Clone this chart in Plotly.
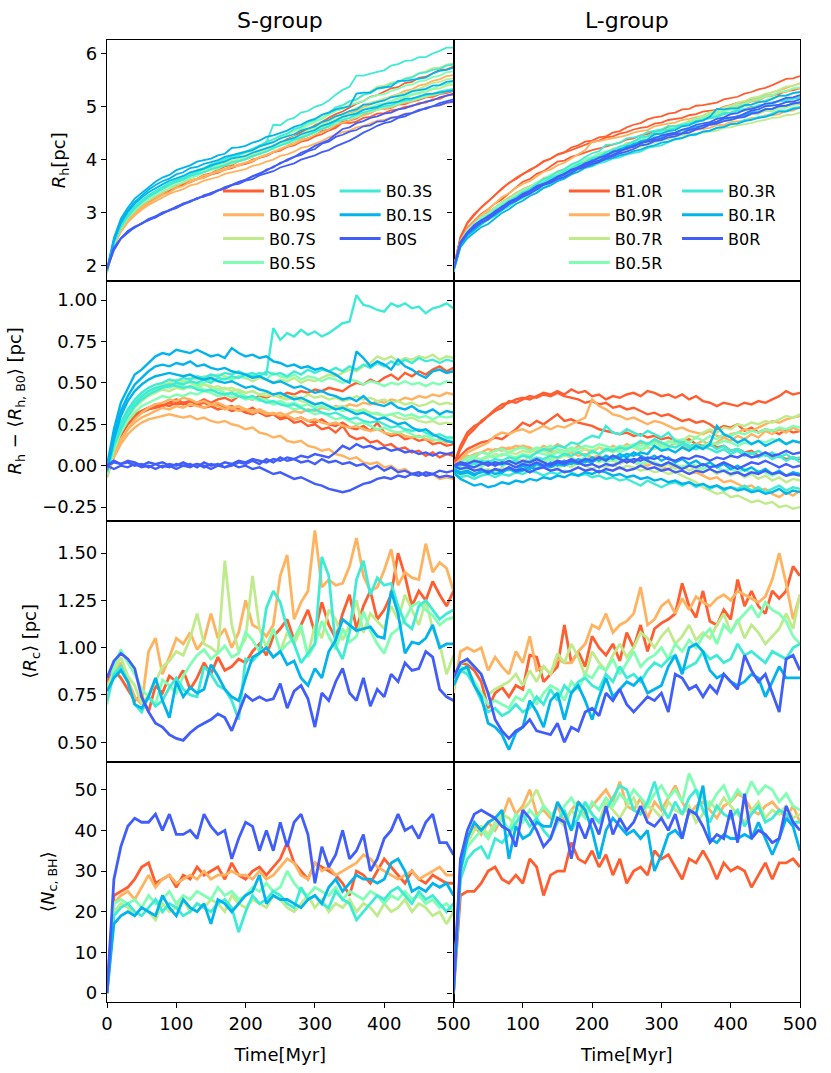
import plotly.graph_objects as go
from plotly.subplots import make_subplots

# ---------------- data ----------------
time_myr = [0, 10, 20, 30, 40, 50, 60, 70, 80, 90, 100,
            110, 120, 130, 140, 150, 160, 170, 180, 190, 200,
            210, 220, 230, 240, 250, 260, 270, 280, 290, 300,
            310, 320, 330, 340, 350, 360, 370, 380, 390, 400,
            410, 420, 430, 440, 450, 460, 470, 480, 490, 500]

models = ["B1.0", "B0.9", "B0.7", "B0.5", "B0.3", "B0.1", "B0"]
colors = ["#ff5e30", "#ffb360", "#c0eb8d", "#80ffb4", "#3febd4", "#02b3ec", "#425efa"]

x_ticks = [0, 100, 200, 300, 400, 500]
rh_ticks = [2, 3, 4, 5, 6]
drh_ticks = [-0.25, 0.0, 0.25, 0.5, 0.75, 1.0]
drh_ticktext = ["\u22120.25", "0.00", "0.25", "0.50", "0.75", "1.00"]
rc_ticks = [0.5, 0.75, 1.0, 1.25, 1.5]
rc_ticktext = ["0.50", "0.75", "1.00", "1.25", "1.50"]
nbh_ticks = [0, 10, 20, 30, 40, 50]

# mean half-mass radius of the B0 runs, <R_h,B0> [pc]
rh_b0_mean_S = [1.93, 2.30, 2.50, 2.62, 2.71, 2.79, 2.86, 2.92, 2.98, 3.04, 3.10,
                3.15, 3.21, 3.26, 3.31, 3.36, 3.41, 3.46, 3.51, 3.55, 3.60,
                3.65, 3.71, 3.77, 3.83, 3.89, 3.95, 4.01, 4.07, 4.13, 4.19,
                4.26, 4.32, 4.40, 4.46, 4.51, 4.56, 4.62, 4.67, 4.72, 4.76,
                4.80, 4.85, 4.89, 4.93, 4.98, 5.02, 5.06, 5.10, 5.14, 5.17]
rh_b0_mean_L = [1.93, 2.42, 2.61, 2.73, 2.83, 2.91, 3.00, 3.09, 3.17, 3.25, 3.32,
                3.39, 3.46, 3.53, 3.59, 3.65, 3.71, 3.77, 3.83, 3.89, 3.94,
                3.99, 4.04, 4.09, 4.13, 4.18, 4.22, 4.27, 4.31, 4.36, 4.40,
                4.44, 4.48, 4.52, 4.56, 4.60, 4.64, 4.68, 4.72, 4.76, 4.80,
                4.83, 4.87, 4.91, 4.94, 4.98, 5.01, 5.05, 5.08, 5.11, 5.14]

# R_h - <R_h,B0> [pc], three runs per model
drh_S_B10 = [
    [-0.05, 0.10, 0.20, 0.27, 0.31, 0.33, 0.35, 0.36, 0.37, 0.36, 0.38,
     0.37, 0.39, 0.38, 0.40, 0.38, 0.40, 0.41, 0.39, 0.42, 0.41,
     0.40, 0.42, 0.41, 0.43, 0.42, 0.44, 0.43, 0.45, 0.44, 0.46,
     0.45, 0.47, 0.46, 0.45, 0.48, 0.50, 0.49, 0.52, 0.50, 0.53,
     0.55, 0.52, 0.56, 0.54, 0.57, 0.55, 0.58, 0.60, 0.57, 0.59],
    [-0.06, 0.08, 0.18, 0.25, 0.29, 0.32, 0.34, 0.35, 0.36, 0.38, 0.37,
     0.38, 0.36, 0.37, 0.35, 0.36, 0.34, 0.35, 0.33, 0.34, 0.32,
     0.31, 0.33, 0.30, 0.31, 0.29, 0.30, 0.28, 0.29, 0.27, 0.26,
     0.28, 0.25, 0.24, 0.26, 0.23, 0.22, 0.24, 0.21, 0.26, 0.20,
     0.18, 0.19, 0.16, 0.17, 0.15, 0.16, 0.13, 0.14, 0.12, 0.13],
    [-0.04, 0.09, 0.19, 0.26, 0.30, 0.33, 0.35, 0.37, 0.36, 0.38, 0.40,
     0.38, 0.39, 0.37, 0.38, 0.36, 0.37, 0.35, 0.36, 0.34, 0.33,
     0.35, 0.32, 0.30, 0.31, 0.28, 0.29, 0.26, 0.27, 0.24, 0.25,
     0.22, 0.23, 0.20, 0.24, 0.18, 0.16, 0.17, 0.14, 0.15, 0.12,
     0.13, 0.10, 0.11, 0.08, 0.09, 0.06, 0.08, 0.05, 0.07, 0.06],
]
drh_S_B09 = [
    [-0.06, 0.05, 0.13, 0.19, 0.23, 0.26, 0.28, 0.29, 0.30, 0.31, 0.30,
     0.29, 0.30, 0.28, 0.29, 0.27, 0.26, 0.27, 0.25, 0.24, 0.22,
     0.23, 0.20, 0.19, 0.17, 0.18, 0.15, 0.14, 0.15, 0.12, 0.11,
     0.09, 0.10, 0.07, 0.06, 0.04, 0.05, 0.02, 0.01, 0.02, -0.01,
     0.00, -0.03, -0.02, -0.05, -0.04, -0.06, -0.05, -0.08, -0.07, -0.08],
    [-0.05, 0.08, 0.16, 0.22, 0.26, 0.29, 0.31, 0.33, 0.35, 0.34, 0.36,
     0.35, 0.37, 0.36, 0.35, 0.37, 0.36, 0.34, 0.35, 0.33, 0.34,
     0.32, 0.33, 0.31, 0.32, 0.30, 0.31, 0.33, 0.32, 0.34, 0.33,
     0.35, 0.34, 0.36, 0.35, 0.37, 0.36, 0.38, 0.37, 0.39, 0.38,
     0.40, 0.39, 0.41, 0.40, 0.42, 0.41, 0.43, 0.42, 0.44, 0.43],
    [-0.07, 0.06, 0.15, 0.22, 0.28, 0.32, 0.35, 0.37, 0.38, 0.40, 0.39,
     0.41, 0.40, 0.38, 0.39, 0.37, 0.38, 0.36, 0.35, 0.36, 0.34,
     0.33, 0.34, 0.32, 0.31, 0.32, 0.30, 0.28, 0.29, 0.27, 0.28,
     0.26, 0.25, 0.26, 0.24, 0.23, 0.24, 0.22, 0.21, 0.22, 0.20,
     0.19, 0.20, 0.18, 0.17, 0.18, 0.16, 0.15, 0.16, 0.14, 0.15],
]
drh_S_B07 = [
    [-0.04, 0.12, 0.24, 0.32, 0.38, 0.42, 0.45, 0.47, 0.49, 0.50, 0.52,
     0.51, 0.53, 0.52, 0.54, 0.53, 0.55, 0.54, 0.52, 0.54, 0.53,
     0.51, 0.53, 0.52, 0.50, 0.52, 0.51, 0.53, 0.50, 0.52, 0.51,
     0.53, 0.55, 0.54, 0.56, 0.58, 0.57, 0.60, 0.62, 0.66, 0.64,
     0.66, 0.63, 0.65, 0.64, 0.66, 0.65, 0.67, 0.64, 0.66, 0.65],
    [-0.05, 0.10, 0.21, 0.29, 0.35, 0.39, 0.42, 0.44, 0.46, 0.45, 0.47,
     0.46, 0.48, 0.47, 0.49, 0.48, 0.46, 0.47, 0.45, 0.46, 0.44,
     0.45, 0.43, 0.44, 0.42, 0.43, 0.41, 0.42, 0.40, 0.43, 0.41,
     0.42, 0.40, 0.41, 0.39, 0.40, 0.42, 0.40, 0.41, 0.39, 0.40,
     0.38, 0.39, 0.37, 0.38, 0.36, 0.37, 0.39, 0.37, 0.38, 0.37],
    [-0.06, 0.11, 0.23, 0.31, 0.37, 0.41, 0.44, 0.46, 0.48, 0.50, 0.49,
     0.51, 0.50, 0.48, 0.49, 0.47, 0.48, 0.46, 0.47, 0.45, 0.44,
     0.45, 0.43, 0.42, 0.43, 0.41, 0.40, 0.41, 0.39, 0.38, 0.37,
     0.38, 0.36, 0.35, 0.36, 0.34, 0.33, 0.34, 0.32, 0.31, 0.30,
     0.31, 0.29, 0.28, 0.29, 0.27, 0.26, 0.27, 0.25, 0.26, 0.25],
]
drh_S_B05 = [
    [-0.04, 0.12, 0.23, 0.31, 0.36, 0.40, 0.43, 0.45, 0.47, 0.48, 0.49,
     0.50, 0.51, 0.49, 0.50, 0.52, 0.51, 0.53, 0.52, 0.54, 0.53,
     0.55, 0.54, 0.52, 0.56, 0.54, 0.53, 0.55, 0.52, 0.54, 0.53,
     0.51, 0.53, 0.52, 0.50, 0.52, 0.51, 0.49, 0.51, 0.50, 0.48,
     0.50, 0.49, 0.51, 0.49, 0.50, 0.48, 0.50, 0.49, 0.51, 0.50],
    [-0.05, 0.10, 0.20, 0.27, 0.32, 0.36, 0.38, 0.40, 0.42, 0.41, 0.43,
     0.42, 0.44, 0.43, 0.45, 0.44, 0.42, 0.43, 0.41, 0.42, 0.40,
     0.41, 0.39, 0.40, 0.38, 0.39, 0.37, 0.38, 0.36, 0.37, 0.35,
     0.36, 0.34, 0.35, 0.33, 0.34, 0.32, 0.33, 0.31, 0.32, 0.30,
     0.31, 0.32, 0.30, 0.31, 0.29, 0.30, 0.28, 0.30, 0.29, 0.30],
    [-0.06, 0.11, 0.22, 0.30, 0.36, 0.40, 0.43, 0.46, 0.48, 0.47, 0.49,
     0.48, 0.47, 0.48, 0.46, 0.45, 0.46, 0.44, 0.43, 0.44, 0.42,
     0.40, 0.41, 0.39, 0.37, 0.38, 0.36, 0.34, 0.35, 0.33, 0.31,
     0.32, 0.30, 0.28, 0.29, 0.27, 0.25, 0.26, 0.24, 0.22, 0.23,
     0.21, 0.20, 0.21, 0.19, 0.17, 0.18, 0.16, 0.15, 0.16, 0.15],
]
drh_S_B03 = [
    [-0.03, 0.12, 0.22, 0.30, 0.36, 0.40, 0.43, 0.45, 0.47, 0.48, 0.50,
     0.49, 0.51, 0.50, 0.52, 0.50, 0.53, 0.52, 0.54, 0.53, 0.55,
     0.54, 0.56, 0.55, 0.83, 0.76, 0.80, 0.78, 0.82, 0.79, 0.81,
     0.78, 0.80, 0.83, 0.86, 0.87, 1.03, 0.97, 0.96, 0.94, 0.93,
     0.98, 0.96, 0.98, 0.95, 0.96, 0.92, 0.95, 0.96, 0.98, 0.95],
    [-0.03, 0.14, 0.26, 0.34, 0.40, 0.44, 0.47, 0.49, 0.50, 0.52, 0.51,
     0.53, 0.52, 0.54, 0.53, 0.55, 0.54, 0.56, 0.55, 0.57, 0.55,
     0.56, 0.54, 0.57, 0.55, 0.56, 0.54, 0.57, 0.55, 0.58, 0.56,
     0.58, 0.57, 0.59, 0.57, 0.60, 0.58, 0.61, 0.59, 0.62, 0.60,
     0.63, 0.61, 0.64, 0.62, 0.65, 0.63, 0.64, 0.62, 0.64, 0.63],
    [-0.04, 0.13, 0.25, 0.33, 0.38, 0.42, 0.45, 0.47, 0.48, 0.49, 0.48,
     0.47, 0.48, 0.46, 0.45, 0.46, 0.44, 0.43, 0.44, 0.42, 0.41,
     0.42, 0.40, 0.38, 0.39, 0.37, 0.36, 0.37, 0.35, 0.33, 0.34,
     0.32, 0.31, 0.32, 0.30, 0.28, 0.29, 0.27, 0.26, 0.27, 0.25,
     0.23, 0.24, 0.22, 0.21, 0.22, 0.20, 0.18, 0.19, 0.17, 0.17],
]
drh_S_B01 = [
    [0.00, 0.22, 0.38, 0.47, 0.55, 0.58, 0.62, 0.66, 0.68, 0.67, 0.70,
     0.69, 0.68, 0.70, 0.68, 0.66, 0.67, 0.65, 0.71, 0.68, 0.66,
     0.67, 0.65, 0.66, 0.63, 0.62, 0.60, 0.61, 0.59, 0.60, 0.58,
     0.59, 0.57, 0.55, 0.52, 0.50, 0.69, 0.65, 0.60, 0.63, 0.61,
     0.58, 0.64, 0.60, 0.58, 0.55, 0.53, 0.57, 0.58, 0.56, 0.57],
    [-0.02, 0.18, 0.33, 0.42, 0.49, 0.53, 0.57, 0.60, 0.61, 0.60, 0.62,
     0.61, 0.63, 0.60, 0.61, 0.59, 0.58, 0.59, 0.57, 0.56, 0.55,
     0.53, 0.54, 0.52, 0.50, 0.51, 0.49, 0.47, 0.48, 0.46, 0.44,
     0.45, 0.43, 0.42, 0.40, 0.41, 0.39, 0.42, 0.38, 0.37, 0.36,
     0.38, 0.35, 0.34, 0.36, 0.33, 0.32, 0.34, 0.31, 0.33, 0.32],
    [-0.03, 0.16, 0.30, 0.39, 0.45, 0.49, 0.52, 0.54, 0.55, 0.56, 0.55,
     0.54, 0.55, 0.53, 0.52, 0.53, 0.51, 0.50, 0.51, 0.49, 0.47,
     0.48, 0.46, 0.45, 0.43, 0.44, 0.42, 0.40, 0.41, 0.39, 0.37,
     0.38, 0.36, 0.34, 0.35, 0.33, 0.31, 0.32, 0.30, 0.28, 0.29,
     0.27, 0.25, 0.26, 0.23, 0.21, 0.22, 0.19, 0.17, 0.15, 0.14],
]
drh_S_B0 = [
    [0.00, 0.02, 0.01, 0.03, 0.02, 0.00, 0.02, 0.01, -0.01, 0.01, 0.00,
     0.02, 0.00, 0.01, -0.01, 0.01, 0.00, 0.02, 0.01, 0.03, 0.02,
     0.04, 0.03, 0.02, 0.04, 0.03, 0.05, 0.04, 0.06, 0.05, 0.07,
     0.06, 0.05, 0.08, 0.12, 0.10, 0.13, 0.11, 0.12, 0.10, 0.11,
     0.09, 0.10, 0.08, 0.09, 0.07, 0.08, 0.06, 0.08, 0.07, 0.08],
    [0.00, -0.02, 0.00, -0.01, 0.01, -0.01, 0.00, -0.02, 0.00, -0.01, 0.01,
     0.00, -0.01, 0.01, 0.00, -0.02, 0.00, -0.01, 0.01, -0.01, 0.00,
     -0.02, -0.01, -0.03, -0.05, -0.04, -0.06, -0.08, -0.07, -0.09, -0.11,
     -0.12, -0.14, -0.15, -0.16, -0.15, -0.13, -0.11, -0.10, -0.08, -0.07,
     -0.08, -0.06, -0.07, -0.05, -0.06, -0.04, -0.05, -0.03, -0.04, -0.03],
    [0.00, 0.03, 0.01, 0.02, 0.00, 0.01, -0.01, 0.01, 0.02, 0.00, -0.02,
     0.00, 0.01, -0.01, 0.02, 0.00, 0.01, -0.01, 0.00, 0.02, 0.01,
     0.03, 0.01, 0.04, 0.02, 0.05, 0.03, 0.04, 0.02, 0.03, 0.01,
     0.04, 0.02, 0.03, 0.01, 0.02, 0.00, 0.01, -0.02, 0.00, -0.03,
     -0.01, -0.04, -0.03, -0.05, -0.04, -0.06, -0.05, -0.07, -0.06, -0.07],
]

drh_L_B10 = [
    [0.00, 0.10, 0.18, 0.22, 0.27, 0.30, 0.34, 0.37, 0.38, 0.40, 0.41,
     0.40, 0.42, 0.44, 0.43, 0.45, 0.43, 0.46, 0.44, 0.45, 0.42,
     0.43, 0.40, 0.42, 0.41, 0.43, 0.44, 0.42, 0.45, 0.44, 0.42,
     0.43, 0.41, 0.43, 0.40, 0.42, 0.39, 0.38, 0.36, 0.38, 0.37,
     0.36, 0.38, 0.37, 0.39, 0.38, 0.40, 0.42, 0.45, 0.43, 0.44],
    [0.00, 0.12, 0.20, 0.24, 0.26, 0.30, 0.33, 0.35, 0.39, 0.38, 0.40,
     0.42, 0.41, 0.43, 0.42, 0.44, 0.42, 0.41, 0.40, 0.38, 0.39,
     0.37, 0.38, 0.35, 0.36, 0.34, 0.35, 0.33, 0.31, 0.32, 0.30,
     0.31, 0.29, 0.27, 0.28, 0.26, 0.27, 0.25, 0.22, 0.24, 0.23,
     0.25, 0.21, 0.23, 0.20, 0.22, 0.21, 0.19, 0.22, 0.20, 0.21],
    [0.00, 0.06, 0.10, 0.12, 0.14, 0.15, 0.17, 0.16, 0.19, 0.22, 0.26,
     0.24, 0.27, 0.25, 0.28, 0.31, 0.27, 0.28, 0.26, 0.25, 0.24,
     0.22, 0.21, 0.20, 0.19, 0.20, 0.18, 0.19, 0.17, 0.18, 0.16,
     0.17, 0.15, 0.14, 0.16, 0.13, 0.12, 0.14, 0.11, 0.12, 0.09,
     0.10, 0.08, 0.09, 0.06, 0.07, 0.05, 0.06, 0.04, 0.05, 0.04],
]
drh_L_B09 = [
    [0.00, 0.04, 0.08, 0.10, 0.12, 0.14, 0.18, 0.20, 0.19, 0.21, 0.22,
     0.20, 0.22, 0.24, 0.22, 0.24, 0.23, 0.25, 0.27, 0.29, 0.40,
     0.36, 0.34, 0.31, 0.30, 0.28, 0.29, 0.27, 0.25, 0.27, 0.26,
     0.24, 0.22, 0.23, 0.21, 0.20, 0.19, 0.21, 0.18, 0.17, 0.19,
     0.20, 0.22, 0.21, 0.23, 0.25, 0.27, 0.26, 0.28, 0.29, 0.30],
    [-0.02, 0.02, 0.05, 0.07, 0.08, 0.10, 0.09, 0.11, 0.10, 0.12, 0.11,
     0.10, 0.09, 0.10, 0.08, 0.09, 0.07, 0.08, 0.06, 0.07, 0.05,
     0.06, 0.04, 0.03, 0.05, 0.02, 0.03, 0.01, 0.00, 0.02, -0.01,
     -0.02, 0.00, -0.03, -0.05, -0.04, -0.06, -0.08, -0.07, -0.10, -0.09,
     -0.11, -0.13, -0.12, -0.15, -0.14, -0.17, -0.19, -0.16, -0.18, -0.15],
    [0.00, 0.03, 0.06, 0.05, 0.08, 0.07, 0.10, 0.09, 0.11, 0.10, 0.12,
     0.11, 0.09, 0.12, 0.10, 0.13, 0.11, 0.09, 0.12, 0.10, 0.08,
     0.11, 0.09, 0.12, 0.10, 0.13, 0.11, 0.14, 0.12, 0.15, 0.13,
     0.11, 0.14, 0.12, 0.10, 0.13, 0.15, 0.12, 0.14, 0.17, 0.15,
     0.18, 0.16, 0.19, 0.17, 0.21, 0.19, 0.22, 0.20, 0.23, 0.21],
]
drh_L_B07 = [
    [-0.05, -0.06, -0.04, -0.05, -0.03, -0.02, -0.04, -0.01, -0.03, 0.00, -0.02,
     0.01, -0.01, 0.02, 0.00, -0.02, 0.01, -0.01, 0.02, 0.00, -0.02,
     0.00, -0.01, 0.01, -0.02, 0.00, -0.01, -0.03, -0.02, -0.04, -0.03,
     -0.05, -0.04, -0.06, -0.08, -0.10, -0.13, -0.15, -0.17, -0.16, -0.19,
     -0.18, -0.20, -0.22, -0.21, -0.23, -0.22, -0.25, -0.24, -0.26, -0.25],
    [-0.03, 0.00, 0.02, 0.04, 0.03, 0.05, 0.07, 0.06, 0.08, 0.07, 0.09,
     0.08, 0.10, 0.09, 0.07, 0.09, 0.08, 0.10, 0.08, 0.10, 0.09,
     0.11, 0.10, 0.08, 0.10, 0.12, 0.11, 0.09, 0.11, 0.10, 0.12,
     0.14, 0.16, 0.15, 0.18, 0.17, 0.20, 0.22, 0.20, 0.23, 0.22,
     0.25, 0.24, 0.26, 0.25, 0.27, 0.26, 0.28, 0.30, 0.29, 0.31],
    [-0.06, -0.04, -0.02, -0.01, 0.00, 0.02, 0.01, 0.03, 0.02, 0.04, 0.03,
     0.05, 0.04, 0.03, 0.05, 0.04, 0.06, 0.05, 0.03, 0.05, 0.04,
     0.02, 0.04, 0.03, 0.01, 0.03, 0.02, 0.00, 0.02, 0.01, -0.01,
     0.01, -0.02, 0.00, -0.03, -0.01, -0.04, -0.02, -0.05, -0.03, -0.06,
     -0.04, -0.07, -0.05, -0.08, -0.06, -0.09, -0.07, -0.10, -0.08, -0.09],
]
drh_L_B05 = [
    [-0.02, 0.02, 0.05, 0.06, 0.08, 0.07, 0.09, 0.10, 0.08, 0.10, 0.11,
     0.09, 0.11, 0.10, 0.12, 0.10, 0.09, 0.11, 0.10, 0.12, 0.11,
     0.13, 0.12, 0.10, 0.12, 0.11, 0.13, 0.12, 0.14, 0.12, 0.10,
     0.12, 0.11, 0.13, 0.12, 0.10, 0.12, 0.14, 0.13, 0.15, 0.14,
     0.12, 0.14, 0.13, 0.15, 0.14, 0.16, 0.15, 0.13, 0.15, 0.14],
    [-0.04, -0.02, 0.00, 0.01, -0.01, 0.02, 0.00, 0.03, 0.01, 0.02, 0.00,
     0.03, 0.01, 0.02, 0.04, 0.02, 0.03, 0.01, 0.03, 0.05, 0.03,
     0.04, 0.02, 0.04, 0.03, 0.05, 0.03, 0.01, 0.03, 0.02, 0.00,
     0.02, 0.01, -0.01, 0.01, 0.00, -0.02, 0.00, -0.01, -0.03, -0.02,
     -0.04, -0.02, -0.05, -0.03, -0.04, -0.06, -0.04, -0.06, -0.05, -0.05],
    [-0.03, 0.00, 0.03, 0.05, 0.04, 0.06, 0.05, 0.07, 0.06, 0.05, 0.07,
     0.06, 0.08, 0.07, 0.06, 0.08, 0.07, 0.09, 0.08, 0.06, 0.08,
     0.07, 0.09, 0.10, 0.08, 0.10, 0.12, 0.10, 0.12, 0.14, 0.12,
     0.15, 0.13, 0.16, 0.14, 0.17, 0.15, 0.18, 0.16, 0.19, 0.18,
     0.20, 0.19, 0.21, 0.20, 0.22, 0.21, 0.23, 0.22, 0.24, 0.23],
]
drh_L_B03 = [
    [-0.03, 0.00, 0.02, 0.01, 0.03, 0.02, 0.04, 0.03, 0.05, 0.04, 0.06,
     0.05, 0.08, 0.10, 0.09, 0.12, 0.11, 0.14, 0.13, 0.16, 0.18,
     0.17, 0.24, 0.20, 0.19, 0.22, 0.20, 0.18, 0.21, 0.19, 0.17,
     0.20, 0.15, 0.14, 0.12, 0.13, 0.11, 0.13, 0.10, 0.12, 0.09,
     0.10, 0.08, 0.07, 0.09, 0.06, 0.08, 0.05, 0.07, 0.04, 0.05],
    [-0.05, -0.07, -0.06, -0.08, -0.06, -0.05, -0.07, -0.05, -0.06, -0.04, -0.05,
     -0.03, -0.04, -0.06, -0.04, -0.05, -0.03, -0.04, -0.06, -0.05, -0.07,
     -0.06, -0.08, -0.07, -0.09, -0.08, -0.10, -0.12, -0.09, -0.11, -0.13,
     -0.11, -0.10, -0.12, -0.10, -0.13, -0.11, -0.14, -0.12, -0.15, -0.13,
     -0.14, -0.12, -0.15, -0.13, -0.16, -0.14, -0.12, -0.15, -0.13, -0.14],
    [-0.02, 0.01, 0.00, 0.02, 0.01, 0.03, 0.02, 0.00, 0.02, 0.03, 0.01,
     0.03, 0.05, 0.04, 0.06, 0.05, 0.07, 0.06, 0.08, 0.06, 0.09,
     0.07, 0.10, 0.09, 0.11, 0.10, 0.12, 0.15, 0.13, 0.16, 0.14,
     0.12, 0.11, 0.13, 0.11, 0.10, 0.12, 0.10, 0.08, 0.10, 0.07,
     0.09, 0.06, 0.08, 0.05, 0.07, 0.04, 0.06, 0.03, 0.05, 0.02],
]
drh_L_B01 = [
    [-0.02, -0.04, -0.03, -0.05, -0.04, -0.03, -0.05, -0.04, -0.02, -0.04, -0.03,
     -0.01, -0.02, 0.00, -0.01, 0.01, 0.00, 0.02, 0.01, 0.03, 0.02,
     0.05, 0.04, 0.06, 0.05, 0.07, 0.06, 0.08, 0.07, 0.12, 0.09,
     0.10, 0.08, 0.11, 0.09, 0.12, 0.10, 0.13, 0.24, 0.19, 0.17,
     0.14, 0.16, 0.13, 0.15, 0.12, 0.14, 0.16, 0.13, 0.15, 0.14],
    [-0.04, -0.08, -0.10, -0.12, -0.11, -0.13, -0.12, -0.10, -0.11, -0.09, -0.10,
     -0.08, -0.09, -0.07, -0.08, -0.06, -0.07, -0.05, -0.06, -0.04, -0.05,
     -0.03, -0.04, -0.06, -0.05, -0.07, -0.06, -0.08, -0.07, -0.09, -0.08,
     -0.10, -0.09, -0.11, -0.10, -0.12, -0.11, -0.13, -0.12, -0.14, -0.13,
     -0.15, -0.14, -0.16, -0.15, -0.17, -0.16, -0.14, -0.17, -0.15, -0.16],
    [-0.03, -0.05, -0.04, -0.06, -0.03, -0.05, -0.02, -0.04, -0.01, -0.03, 0.00,
     -0.02, 0.01, -0.01, 0.02, 0.00, 0.03, 0.01, 0.04, 0.02, 0.05,
     0.03, 0.06, 0.04, 0.07, 0.05, 0.08, 0.06, 0.04, 0.06, 0.03,
     0.05, 0.02, 0.04, 0.01, 0.03, 0.00, 0.02, -0.01, 0.01, -0.02,
     0.00, -0.03, -0.01, -0.04, -0.02, -0.05, -0.03, -0.06, -0.04, -0.05],
]
drh_L_B0 = [
    [0.00, 0.02, 0.01, 0.03, 0.02, 0.00, 0.02, 0.01, 0.03, 0.01, 0.03,
     0.02, 0.04, 0.02, 0.00, 0.02, 0.01, 0.03, 0.02, 0.04, 0.03,
     0.05, 0.03, 0.06, 0.04, 0.02, 0.04, 0.03, 0.05, 0.04, 0.06,
     0.04, 0.03, 0.05, 0.04, 0.06, 0.05, 0.03, 0.05, 0.04, 0.06,
     0.05, 0.07, 0.05, 0.06, 0.08, 0.06, 0.07, 0.09, 0.07, 0.08],
    [0.00, -0.02, -0.01, -0.03, -0.02, -0.04, -0.02, -0.03, -0.01, -0.03, -0.02,
     -0.04, -0.02, -0.01, -0.03, -0.02, -0.04, -0.03, -0.01, -0.03, -0.02,
     -0.04, -0.02, -0.03, -0.01, -0.03, -0.02, 0.00, -0.02, -0.01, -0.03,
     -0.02, -0.04, -0.03, -0.05, -0.03, -0.04, -0.02, -0.04, -0.03, -0.05,
     -0.04, -0.06, -0.04, -0.05, -0.03, -0.05, -0.04, -0.06, -0.05, -0.06],
    [0.00, 0.01, 0.00, -0.01, 0.01, 0.02, 0.00, 0.02, 0.01, -0.01, 0.01,
     0.00, 0.02, 0.00, 0.01, 0.03, 0.02, 0.04, 0.02, 0.00, 0.01,
     -0.01, 0.01, 0.00, 0.02, 0.04, 0.02, 0.05, 0.03, 0.01, 0.00,
     0.02, 0.00, -0.02, 0.00, -0.01, 0.01, -0.01, 0.00, 0.02, 0.00,
     -0.02, 0.00, 0.02, 0.01, 0.03, 0.01, -0.01, 0.01, -0.01, 0.00],
]

# <R_c> [pc]
rc_S_B10 = [0.82, 0.88, 0.84, 0.78, 0.72, 0.75, 0.66, 0.80, 0.76, 0.85, 0.82,
            0.88, 0.78, 0.84, 0.92, 0.86, 0.95, 0.88, 0.90, 0.94, 0.92,
            0.98, 1.02, 0.96, 1.06, 1.10, 1.15, 1.04, 1.12, 1.20, 1.08,
            1.24, 1.12, 1.05, 1.18, 1.28, 1.10, 1.22, 1.30, 1.15, 1.20,
            1.28, 1.50, 1.38, 1.22, 1.30, 1.25, 1.35, 1.28, 1.22, 1.30]
rc_S_B09 = [0.80, 0.86, 0.92, 0.83, 0.74, 0.70, 0.98, 1.05, 0.86, 0.95, 1.05,
            1.02, 1.08, 0.99, 1.04, 1.18, 1.05, 1.10, 1.00, 1.08, 1.25,
            1.12, 1.10, 1.06, 1.12, 1.38, 1.49, 1.15, 1.24, 1.30, 1.62,
            1.32, 1.36, 1.33, 1.34, 1.43, 1.58, 1.38, 1.30, 1.32, 1.41,
            1.52, 1.33, 1.40, 1.37, 1.36, 1.55, 1.40, 1.45, 1.42, 1.30]
rc_S_B07 = [0.78, 0.88, 0.95, 0.85, 0.80, 0.70, 0.75, 0.82, 0.90, 0.93, 0.98,
            0.96, 1.05, 1.18, 1.02, 1.00, 0.97, 1.46, 1.12, 0.98, 1.05,
            1.38, 1.10, 1.00, 0.95, 0.98, 1.08, 1.02, 1.10, 0.96, 1.12,
            1.05, 1.20, 1.15, 1.04, 1.12, 1.25, 1.08, 1.18, 1.14, 1.10,
            1.22, 1.15, 1.28, 1.20, 1.12, 1.25, 1.10, 1.02, 0.86, 0.96]
rc_S_B05 = [0.70, 0.90, 0.99, 0.92, 0.86, 0.78, 0.74, 0.70, 0.83, 0.80, 0.76,
            0.85, 0.91, 0.96, 0.99, 0.94, 0.97, 1.01, 0.95, 0.97, 1.08,
            1.04, 0.98, 1.00, 1.10, 0.98, 1.02, 1.05, 1.12, 0.95, 1.02,
            1.14, 1.06, 0.99, 1.10, 1.03, 1.06, 1.19, 1.09, 1.02, 0.97,
            1.07, 1.10, 1.15, 1.22, 1.24, 1.20, 1.17, 1.12, 1.15, 1.16]
rc_S_B03 = [0.72, 0.86, 0.90, 0.82, 0.70, 0.66, 0.74, 0.69, 0.72, 0.79, 0.84,
            0.78, 0.75, 0.74, 0.90, 0.86, 0.80, 0.78, 0.72, 0.62, 0.94,
            0.93, 0.97, 1.21, 1.30, 1.24, 1.10, 1.02, 0.92, 0.97, 1.02,
            1.48, 1.38, 1.01, 0.94, 1.08, 1.36, 1.46, 1.28, 1.37, 1.33,
            1.34, 1.22, 1.13, 1.10, 1.22, 1.25, 1.20, 1.15, 1.18, 1.20]
rc_S_B01 = [0.77, 0.84, 0.88, 0.82, 0.70, 0.68, 0.74, 0.84, 0.72, 0.63, 0.82,
            0.74, 0.79, 0.76, 0.78, 0.91, 0.85, 0.78, 0.74, 0.72, 0.84,
            0.95, 0.97, 1.00, 0.95, 0.98, 0.91, 0.93, 0.84, 0.80, 0.89,
            0.84, 0.98, 1.04, 1.15, 1.12, 1.09, 1.10, 1.11, 1.06, 1.05,
            1.30, 1.18, 0.97, 1.03, 1.02, 1.05, 1.12, 1.00, 1.02, 1.02]
rc_S_B0 = [0.84, 0.93, 0.97, 0.94, 0.89, 0.74, 0.66, 0.60, 0.58, 0.54, 0.52,
           0.51, 0.55, 0.58, 0.60, 0.62, 0.65, 0.63, 0.56, 0.66, 0.75,
           0.72, 0.74, 0.72, 0.73, 0.81, 0.68, 0.77, 0.80, 0.73, 0.58,
           0.76, 0.72, 0.82, 0.89, 0.76, 0.72, 0.84, 0.69, 0.78, 0.74,
           0.86, 0.82, 0.92, 0.88, 0.89, 0.98, 0.95, 0.78, 0.74, 0.72]

rc_L_B10 = [0.84, 0.92, 0.91, 0.88, 0.82, 0.68, 0.76, 0.79, 0.74, 0.80, 0.78,
            0.96, 0.95, 0.82, 0.86, 0.90, 1.12, 0.92, 0.98, 0.90, 1.06,
            1.00, 0.96, 1.02, 0.93, 1.08, 1.00, 1.12, 0.98, 1.10, 1.13,
            1.15, 1.18, 1.34, 1.22, 1.16, 1.30, 1.14, 1.12, 1.20, 1.15,
            1.36, 1.22, 1.30, 1.22, 1.18, 1.30, 1.26, 1.30, 1.43, 1.38]
rc_L_B09 = [0.76, 0.98, 1.00, 0.98, 1.00, 0.88, 0.95, 0.90, 0.86, 0.98, 0.92,
            1.06, 0.88, 0.90, 0.86, 0.94, 0.92, 0.92, 0.98, 1.02, 1.12,
            1.10, 1.18, 1.08, 1.12, 1.14, 1.18, 1.32, 1.12, 1.15, 1.22,
            1.25, 1.18, 1.26, 1.20, 1.27, 1.24, 1.22, 1.26, 1.28, 1.25,
            1.30, 1.28, 1.26, 1.24, 1.27, 1.36, 1.50, 1.34, 1.15, 1.28]
rc_L_B07 = [0.78, 0.92, 0.93, 0.90, 0.86, 0.75, 0.78, 0.80, 0.82, 0.86, 0.80,
            0.88, 0.82, 0.90, 0.86, 0.97, 0.92, 1.02, 0.95, 0.85, 0.98,
            0.92, 0.88, 0.96, 1.02, 0.95, 1.00, 1.08, 1.05, 1.00, 1.06,
            1.10, 1.02, 1.06, 1.12, 1.04, 1.08, 1.05, 1.12, 1.18, 1.08,
            1.15, 1.05, 1.12, 1.08, 1.02, 1.06, 1.10, 1.18, 1.10, 1.28]
rc_L_B05 = [0.80, 0.90, 0.88, 0.82, 0.76, 0.70, 0.72, 0.70, 0.68, 0.74, 0.72,
            0.78, 0.70, 0.76, 0.80, 0.78, 0.72, 0.82, 0.78, 0.86, 0.84,
            0.90, 0.88, 0.94, 0.86, 0.92, 0.98, 0.90, 0.94, 0.96, 1.00,
            0.94, 1.02, 0.98, 1.04, 1.00, 1.06, 1.10, 1.02, 1.12, 1.08,
            1.14, 1.18, 1.22, 1.16, 1.24, 1.20, 1.18, 1.14, 1.06, 1.02]
rc_L_B03 = [0.80, 0.88, 0.86, 0.80, 0.72, 0.66, 0.68, 0.64, 0.66, 0.70, 0.66,
            0.68, 0.74, 0.70, 0.78, 0.72, 0.80, 0.76, 0.82, 0.84, 0.80,
            0.78, 0.86, 0.82, 0.90, 0.84, 0.86, 0.82, 0.88, 0.92, 0.90,
            0.94, 0.96, 0.88, 0.90, 0.92, 0.98, 0.94, 0.96, 0.92, 0.94,
            1.02, 0.96, 0.98, 0.95, 0.92, 0.98, 0.96, 0.94, 1.00, 1.02]
rc_L_B01 = [0.80, 0.88, 0.90, 0.80, 0.74, 0.60, 0.58, 0.54, 0.46, 0.55, 0.58,
            0.72, 0.66, 0.58, 0.72, 0.76, 0.62, 0.76, 0.80, 0.72, 0.62,
            0.74, 0.84, 0.74, 0.78, 0.82, 0.80, 0.84, 0.76, 0.78, 0.80,
            0.90, 0.96, 0.86, 1.00, 1.02, 0.98, 0.88, 0.84, 0.86, 0.82,
            0.80, 0.82, 0.86, 0.84, 0.74, 0.82, 0.90, 0.84, 0.84, 0.84]
rc_L_B0 = [0.84, 0.92, 0.94, 0.90, 0.86, 0.76, 0.62, 0.56, 0.52, 0.56, 0.58,
           0.62, 0.56, 0.55, 0.54, 0.60, 0.50, 0.58, 0.56, 0.66, 0.68,
           0.64, 0.76, 0.72, 0.78, 0.70, 0.66, 0.70, 0.74, 0.72, 0.76,
           0.66, 0.86, 0.84, 0.78, 0.80, 0.74, 0.80, 0.76, 0.86, 0.82,
           0.78, 0.96, 0.88, 0.82, 0.86, 0.76, 0.66, 0.94, 0.96, 0.88]

# <N_c,BH>
nbh_S_B10 = [0, 24, 25, 26, 28, 31, 32, 27, 28, 29, 26,
             29, 28, 31, 29, 30, 31, 28, 32, 29, 28,
             30, 31, 29, 31, 33, 37, 32, 30, 28, 32,
             31, 30, 29, 27, 24, 30, 29, 27, 30, 33,
             31, 29, 27, 30, 28, 27, 29, 28, 27, 27]
nbh_S_B09 = [0, 22, 24, 25, 23, 26, 29, 26, 28, 29, 27,
             28, 29, 28, 30, 28, 29, 29, 30, 29, 29,
             28, 30, 28, 29, 31, 33, 32, 29, 28, 32,
             30, 31, 29, 30, 31, 32, 34, 33, 31, 30,
             29, 28, 29, 30, 28, 29, 30, 31, 29, 29]
nbh_S_B07 = [0, 20, 22, 21, 19, 21, 20, 18, 22, 20, 21,
             23, 20, 22, 21, 23, 22, 20, 24, 22, 21,
             23, 22, 21, 24, 23, 21, 20, 22, 24, 21,
             23, 20, 22, 21, 23, 20, 22, 21, 19, 22,
             20, 21, 23, 20, 22, 21, 19, 20, 17, 20]
nbh_S_B05 = [0, 22, 23, 22, 23, 21, 24, 22, 23, 25, 22,
             24, 23, 25, 24, 23, 26, 24, 25, 23, 24,
             26, 25, 27, 25, 26, 30, 27, 25, 24, 26,
             25, 24, 26, 23, 25, 24, 23, 25, 24, 22,
             24, 23, 25, 23, 24, 22, 23, 21, 22, 20]
nbh_S_B03 = [0, 19, 21, 22, 20, 19, 21, 23, 20, 22, 21,
             19, 20, 22, 21, 20, 22, 23, 21, 15, 20,
             24, 22, 23, 25, 24, 22, 21, 26, 23, 24,
             22, 21, 25, 23, 22, 18, 20, 22, 24, 23,
             25, 26, 24, 22, 25, 23, 24, 22, 20, 22]
nbh_S_B01 = [0, 17, 19, 20, 19, 21, 20, 19, 24, 21, 19,
             23, 21, 20, 22, 17, 23, 22, 20, 22, 24,
             25, 29, 22, 24, 23, 23, 22, 21, 23, 24,
             22, 26, 28, 25, 27, 29, 28, 28, 27, 28,
             32, 33, 30, 25, 26, 25, 27, 26, 27, 24]
nbh_S_B0 = [0, 28, 36, 41, 43, 42, 42, 44, 40, 44, 39,
            39, 40, 38, 44, 41, 39, 40, 33, 38, 42,
            41, 35, 40, 35, 42, 36, 42, 44, 39, 27,
            36, 31, 34, 40, 33, 35, 39, 30, 33, 38,
            40, 44, 40, 41, 38, 42, 44, 37, 37, 34]

nbh_L_B10 = [0, 24, 25, 25, 27, 30, 31, 28, 27, 29, 27,
             33, 31, 24, 29, 30, 30, 37, 33, 32, 35,
             31, 34, 29, 33, 27, 30, 31, 29, 35, 33,
             34, 31, 28, 33, 32, 35, 32, 28, 32, 30,
             31, 30, 26, 29, 32, 28, 32, 32, 33, 31]
nbh_L_B09 = [0, 32, 38, 41, 39, 42, 40, 43, 48, 44, 46,
             50, 44, 45, 43, 46, 42, 45, 47, 44, 46,
             48, 50, 47, 52, 46, 45, 48, 43, 47, 45,
             48, 51, 47, 44, 46, 47, 45, 43, 46, 47,
             49, 48, 45, 44, 46, 47, 45, 43, 46, 42]
nbh_L_B07 = [0, 31, 37, 40, 41, 39, 42, 44, 43, 41, 45,
             47, 50, 46, 44, 43, 41, 45, 43, 46, 44,
             42, 47, 45, 43, 46, 48, 44, 46, 45, 43,
             47, 45, 44, 46, 42, 44, 47, 45, 48, 46,
             44, 42, 45, 47, 43, 45, 44, 46, 43, 44]
nbh_L_B05 = [0, 30, 36, 38, 40, 38, 41, 43, 40, 44, 42,
             45, 43, 46, 44, 42, 46, 48, 45, 43, 47,
             45, 48, 46, 49, 47, 50, 48, 46, 49, 51,
             48, 50, 47, 54, 50, 48, 46, 49, 51, 47,
             50, 48, 52, 49, 51, 50, 47, 49, 46, 45]
nbh_L_B03 = [0, 28, 33, 35, 36, 33, 38, 37, 39, 42, 44,
             41, 43, 40, 38, 42, 45, 40, 43, 47, 44,
             42, 45, 48, 51, 50, 45, 44, 47, 52, 46,
             43, 47, 44, 48, 50, 45, 42, 46, 44, 43,
             45, 41, 44, 46, 42, 43, 45, 44, 42, 42]
nbh_L_B01 = [0, 30, 38, 42, 40, 42, 43, 45, 33, 41, 38,
             39, 42, 41, 41, 47, 44, 40, 47, 45, 40,
             33, 40, 43, 41, 39, 40, 38, 40, 30, 34,
             39, 40, 38, 45, 44, 51, 38, 37, 39, 38,
             38, 39, 38, 42, 38, 34, 38, 43, 41, 35]
nbh_L_B0 = [0, 33, 40, 44, 45, 44, 43, 41, 40, 36, 45,
            43, 40, 36, 38, 43, 42, 33, 42, 38, 43,
            39, 46, 39, 43, 40, 42, 46, 42, 41, 43,
            40, 44, 38, 45, 44, 41, 37, 39, 38, 45,
            37, 49, 38, 40, 39, 37, 38, 46, 42, 40]

groups = {
    "S": dict(col=1, mean=rh_b0_mean_S,
              drh=[drh_S_B10, drh_S_B09, drh_S_B07, drh_S_B05, drh_S_B03, drh_S_B01, drh_S_B0],
              rc=[rc_S_B10, rc_S_B09, rc_S_B07, rc_S_B05, rc_S_B03, rc_S_B01, rc_S_B0],
              nbh=[nbh_S_B10, nbh_S_B09, nbh_S_B07, nbh_S_B05, nbh_S_B03, nbh_S_B01, nbh_S_B0]),
    "L": dict(col=2, mean=rh_b0_mean_L,
              drh=[drh_L_B10, drh_L_B09, drh_L_B07, drh_L_B05, drh_L_B03, drh_L_B01, drh_L_B0],
              rc=[rc_L_B10, rc_L_B09, rc_L_B07, rc_L_B05, rc_L_B03, rc_L_B01, rc_L_B0],
              nbh=[nbh_L_B10, nbh_L_B09, nbh_L_B07, nbh_L_B05, nbh_L_B03, nbh_L_B01, nbh_L_B0]),
}
suffix = {"S": "S", "L": "R"}

# ---------------- figure ----------------
FONT = "DejaVu Sans"
fig = make_subplots(rows=4, cols=2, horizontal_spacing=0, vertical_spacing=0)


def line(x, y, color, width):
    n = min(len(x), len(y))
    return go.Scatter(x=x[:n], y=y[:n], mode="lines", showlegend=False,
                      hoverinfo="skip", line=dict(color=color, width=width))


for g, d in groups.items():
    col = d["col"]
    for i, m in enumerate(models):
        c = colors[i]
        for run in d["drh"][i]:
            rh = [a + b for a, b in zip(d["mean"], run)]
            fig.add_trace(line(time_myr, rh, c, 1.8), row=1, col=col)
        for run in d["drh"][i]:
            fig.add_trace(line(time_myr, run, c, 2.4), row=2, col=col)
        fig.add_trace(line(time_myr, d["rc"][i], c, 2.8), row=3, col=col)
        fig.add_trace(line(time_myr, d["nbh"][i], c, 2.8), row=4, col=col)

# legend entries (two columns per panel)
legend_names = {"S": ("legend", "legend2"), "L": ("legend3", "legend4")}
for g, d in groups.items():
    col = d["col"]
    for i, m in enumerate(models):
        lg = legend_names[g][0] if i < 4 else legend_names[g][1]
        fig.add_trace(go.Scatter(x=[None], y=[None], mode="lines", name=m + suffix[g],
                                 legend=lg, showlegend=True, hoverinfo="skip",
                                 line=dict(color=colors[i], width=3)), row=1, col=col)

axis_style = dict(showline=True, linecolor="black", linewidth=1.2, mirror=True,
                  showgrid=False, zeroline=False, tickcolor="black", ticklen=5,
                  tickwidth=1.2, tickfont=dict(family=FONT, size=18, color="black"))

y_specs = [
    dict(range=[1.71, 6.265], tickvals=rh_ticks, ticktext=[str(v) for v in rh_ticks],
         title="<i>R</i><sub>h</sub>[pc]"),
    dict(range=[-0.334, 1.118], tickvals=drh_ticks, ticktext=drh_ticktext,
         title="<i>R</i><sub>h</sub> \u2212 \u27e8<i>R</i><sub>h, B0</sub>\u27e9 [pc]"),
    dict(range=[0.398, 1.67], tickvals=rc_ticks, ticktext=rc_ticktext,
         title="\u27e8<i>R</i><sub>c</sub>\u27e9 [pc]"),
    dict(range=[-2.2, 56.94], tickvals=nbh_ticks, ticktext=[str(v) for v in nbh_ticks],
         title="\u27e8<i>N</i><sub>c, BH</sub>\u27e9"),
]

for r in range(1, 5):
    spec = y_specs[r - 1]
    for c in (1, 2):
        fig.update_yaxes(axis_style, row=r, col=c, range=spec["range"],
                         tickvals=spec["tickvals"], ticktext=spec["ticktext"],
                         ticks="outside", showticklabels=(c == 1))
        if c == 1:
            fig.update_yaxes(row=r, col=c,
                             title=dict(text=spec["title"],
                                        font=dict(family=FONT, size=18, color="black")))
        xkw = dict(range=[0, 500], tickvals=x_ticks)
        if r < 4:
            fig.update_xaxes(axis_style, row=r, col=c, ticks="", showticklabels=False, **xkw)
        else:
            ttxt = [str(v) for v in x_ticks]
            if c == 2:
                ttxt[0] = ""
            fig.update_xaxes(axis_style, row=r, col=c, ticks="outside", showticklabels=True,
                             ticktext=ttxt,
                             title=dict(text="Time[Myr]",
                                        font=dict(family=FONT, size=18, color="black")),
                             **xkw)

legend_common = dict(bgcolor="rgba(0,0,0,0)", borderwidth=0, xanchor="left", yanchor="top",
                     itemwidth=41, tracegroupgap=0,
                     font=dict(family=FONT, size=16, color="black"))
fig.update_layout(
    width=831, height=1073,
    margin=dict(l=106.5, r=30.5, t=40, b=67),
    paper_bgcolor="white", plot_bgcolor="white",
    font=dict(family=FONT, size=18, color="black"),
    legend=dict(legend_common, x=0.1602, y=0.8606),
    legend2=dict(legend_common, x=0.3285, y=0.8606),
    legend3=dict(legend_common, x=0.6592, y=0.8606),
    legend4=dict(legend_common, x=0.8225, y=0.8606),
    annotations=[
        dict(text="S-group", x=0.25, y=1.0207, xref="paper", yref="paper",
             xanchor="center", yanchor="middle", showarrow=False,
             font=dict(family=FONT, size=22, color="black")),
        dict(text="L-group", x=0.75, y=1.0207, xref="paper", yref="paper",
             xanchor="center", yanchor="middle", showarrow=False,
             font=dict(family=FONT, size=22, color="black")),
    ],
)

fig.write_html("out.html", config={"displayModeBar": False},
               post_script="document.body.style.margin='0';document.body.style.padding='0';")
